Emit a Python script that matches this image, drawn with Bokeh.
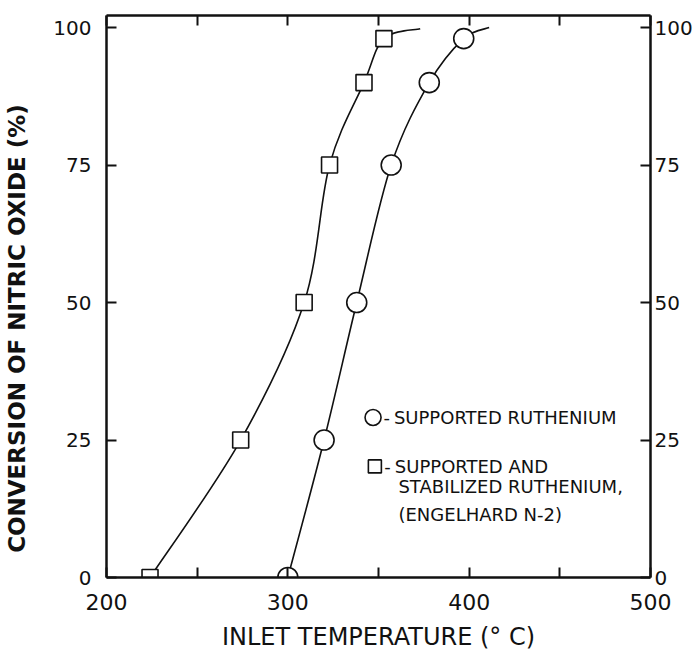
from bokeh.plotting import figure
from bokeh.models import LinearAxis, FixedTicker
from bokeh.core.properties import value
from bokeh.embed import file_html
from bokeh.resources import INLINE

# Conversion of nitric oxide (%) versus inlet temperature (deg C)
conversion = [0, 25, 50, 75, 90, 98]
temp_supported = [300, 320, 338, 357, 378, 397]
temp_stabilized = [224, 274, 309, 323, 342, 353]

# where each fitted curve runs out beyond its last measured point
tail_supported = (411, 100)
tail_stabilized = (373, 99.8)

x_ticks = [200, 250, 300, 350, 400, 450, 500]
x_labels = {250: "", 350: "", 450: ""}
y_ticks = [0, 25, 50, 75, 100]

key_labels = ["SUPPORTED RUTHENIUM", "SUPPORTED AND",
              "STABILIZED RUTHENIUM,", "(ENGELHARD N-2)"]

FONT = "DejaVu Sans"
INK = "#111111"

p = figure(width=695, height=654, x_range=(200, 500), y_range=(0, 102.2),
           output_backend="svg", toolbar_location=None,
           x_axis_location=None, y_axis_location=None,
           min_border_left=106, min_border_right=40,
           min_border_top=15, min_border_bottom=77)
p.grid.visible = False
p.outline_line_color = None
p.background_fill_color = "white"
p.border_fill_color = "white"


def style_axis(ax, ticks, size="20px", overrides=None, show_labels=True):
    ax.ticker = FixedTicker(ticks=ticks)
    ax.axis_line_width = 2.5
    ax.axis_line_color = INK
    ax.major_tick_in = 10
    ax.major_tick_out = 0
    ax.major_tick_line_width = 2
    ax.major_tick_line_color = INK
    ax.minor_tick_line_color = None
    ax.major_label_text_font = FONT
    ax.major_label_text_font_size = size
    ax.major_label_text_color = INK
    if overrides:
        ax.major_label_overrides = overrides
    if not show_labels:
        ax.major_label_overrides = {t: "" for t in ticks}
    return ax


bottom = style_axis(LinearAxis(), x_ticks, "22px", x_labels)
bottom.major_label_standoff = 16
bottom.axis_label = "INLET TEMPERATURE (° C)"
bottom.axis_label_text_font = FONT
bottom.axis_label_text_font_style = "normal"
bottom.axis_label_text_font_size = "24px"
bottom.axis_label_text_color = INK
bottom.axis_label_standoff = 10
p.add_layout(bottom, "below")

top = style_axis(LinearAxis(), x_ticks, show_labels=False)
p.add_layout(top, "above")

left = style_axis(LinearAxis(), y_ticks)
left.major_label_standoff = 15
left.axis_label = "CONVERSION OF NITRIC OXIDE (%)" + "\u00a0" * 8
left.axis_label_text_font = FONT
left.axis_label_text_font_style = "bold"
left.axis_label_text_font_size = "23px"
left.axis_label_text_color = INK
left.axis_label_standoff = 20
p.add_layout(left, "left")

right = style_axis(LinearAxis(), y_ticks)
right.major_label_standoff = 4
p.add_layout(right, "right")


def smooth_curve(xs, ys):
    """Catmull-Rom segments through the points, as cubic Bezier pieces."""
    n = len(xs)
    px = [xs[0]] + list(xs) + [xs[-1]]
    py = [ys[0]] + list(ys) + [ys[-1]]
    seg = dict(x0=[], y0=[], x1=[], y1=[], cx0=[], cy0=[], cx1=[], cy1=[])
    for i in range(1, n):
        a, b, c, d = i - 1, i, i + 1, i + 2
        seg["x0"].append(px[b]); seg["y0"].append(py[b])
        seg["x1"].append(px[c]); seg["y1"].append(py[c])
        seg["cx0"].append(px[b] + (px[c] - px[a]) / 6)
        seg["cy0"].append(py[b] + (py[c] - py[a]) / 6)
        seg["cx1"].append(px[c] - (px[d] - px[b]) / 6)
        seg["cy1"].append(py[c] - (py[d] - py[b]) / 6)
    return seg


for temps, tail in ((temp_supported, tail_supported),
                    (temp_stabilized, tail_stabilized)):
    seg = smooth_curve(temps + [tail[0]], conversion + [tail[1]])
    p.bezier(line_color=INK, line_width=1.6, **seg)

p.scatter(temp_supported, conversion, marker="circle", size=20,
          line_color=INK, line_width=1.6, fill_color="white")
p.scatter(temp_stabilized, conversion, marker="square", size=16,
          line_color=INK, line_width=1.6, fill_color="white")

# key: symbols, dashes, then the descriptions
p.scatter([347], [29.1], marker="circle", size=16, line_color=INK,
          line_width=1.6, fill_color="white")
p.scatter([348], [20.2], marker="square", size=13, line_color=INK,
          line_width=1.6, fill_color="white")
p.text(x=[354.5, 355], y=[29.1, 20.2], text=["-", "-"],
       text_font=value(FONT), text_font_size="18px", text_color=INK,
       text_baseline="middle", text_align="center")
p.text(x=[358.5, 359, 361, 361], y=[29.1, 20.2, 16.5, 11.5], text=key_labels,
       text_font=value(FONT), text_font_size="18px", text_color=INK,
       text_baseline="middle", text_align="left")

open("out.html", "w").write(file_html(p, INLINE))
